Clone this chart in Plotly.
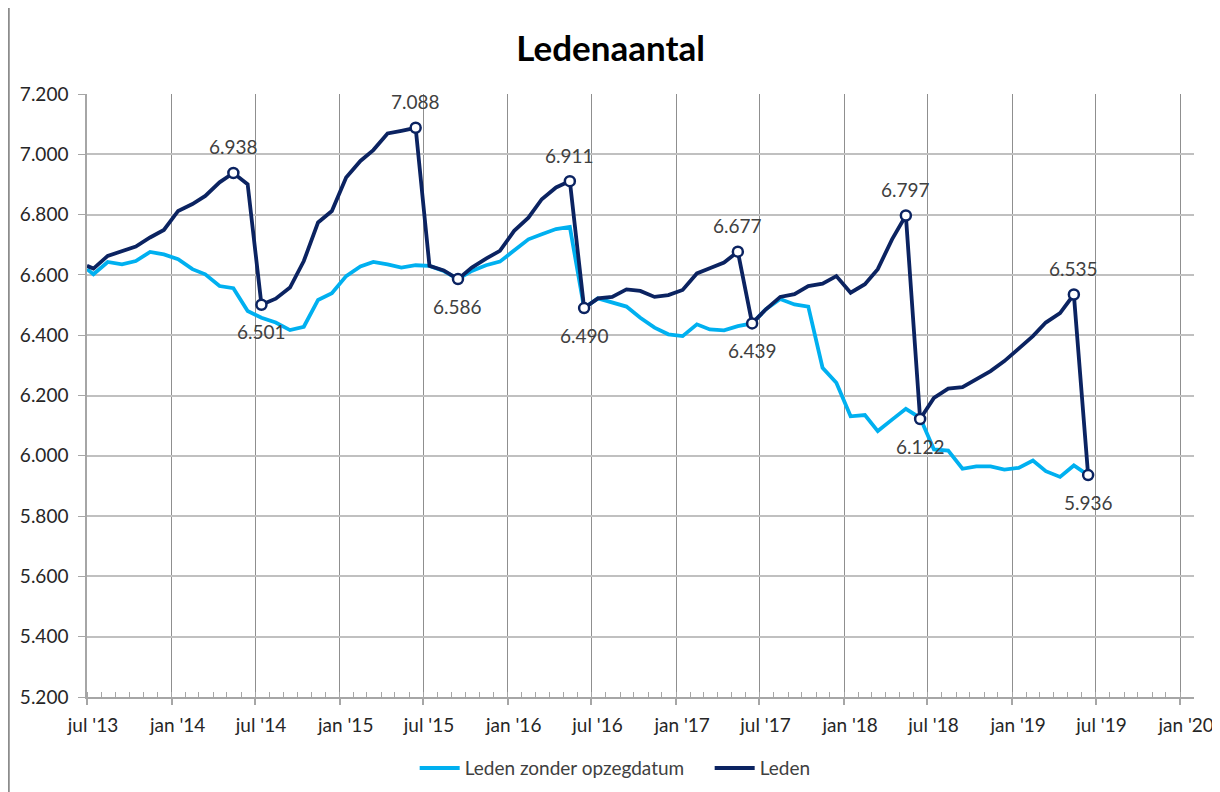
import pandas as pd
import plotly.graph_objects as go

# ---- data -------------------------------------------------------------
first_date = ["2013-07-01"]
monthly_dates = [d.strftime("%Y-%m-%d") for d in
                 (pd.date_range("2013-07-01", "2019-06-01", freq="MS") + pd.Timedelta(days=14))]
dates = first_date + monthly_dates

leden = [6630, 6621, 6663, 6679, 6694, 6724, 6749,
         6812, 6835, 6862, 6907, 6938, 6901, 6501, 6521, 6558, 6646, 6774, 6812,
         6923, 6978, 7014, 7069, 7078, 7088, 6630, 6615, 6586, 6624, 6654, 6680,
         6746, 6790, 6851, 6890, 6911, 6490, 6522, 6527, 6552, 6547, 6527, 6533,
         6550, 6605, 6622, 6641, 6677, 6439, 6486, 6527, 6536, 6563, 6571, 6596,
         6541, 6569, 6619, 6718, 6797, 6122, 6192, 6223, 6228, 6255, 6281, 6314,
         6355, 6397, 6442, 6473, 6535, 5936]

leden_zonder = [6619, 6602, 6643, 6635, 6646, 6676, 6668,
                6652, 6619, 6602, 6563, 6556, 6480, 6458, 6442, 6417, 6428, 6517, 6539,
                6596, 6628, 6643, 6635, 6624, 6632, 6630, 6613, 6586, 6613, 6632, 6644,
                6682, 6718, 6735, 6752, 6759, 6490, 6522, 6508, 6495, 6458, 6425, 6403,
                6397, 6436, 6419, 6416, 6430, 6439, 6486, 6520, 6502, 6495, 6292, 6242,
                6131, 6135, 6082, 6120, 6156, 6126, 6021, 6017, 5957, 5965, 5965, 5954,
                5960, 5984, 5949, 5930, 5968, 5936]

# highlighted points (index into the series) and label side
peak_idx = [11, 24, 35, 47, 59, 71]
trough_idx = [13, 27, 36, 48, 60, 72]

tick_dates = [d.strftime("%Y-%m-%d") for d in pd.date_range("2013-07-01", "2020-01-01", freq="6MS")]
month_names = {1: "jan", 7: "jul"}
tick_text = [f"{month_names[pd.Timestamp(d).month]} '{pd.Timestamp(d).strftime('%y')}" for d in tick_dates]

LIGHT = "#00B0F0"
DARK = "#0B2361"
FONT = "Lato, 'Open Sans', sans-serif"

def fmt(v):
    return f"{v:,}".replace(",", ".")

fig = go.Figure()
fig.add_trace(go.Scatter(x=dates, y=leden_zonder, mode="lines", name="Leden zonder opzegdatum",
                         line=dict(color=LIGHT, width=3.8)))
fig.add_trace(go.Scatter(x=dates, y=leden, mode="lines", name="Leden",
                         line=dict(color=DARK, width=3.8)))

mark_idx = peak_idx + trough_idx
fig.add_trace(go.Scatter(x=[dates[i] for i in mark_idx], y=[leden[i] for i in mark_idx],
                         mode="markers", showlegend=False, hoverinfo="skip",
                         marker=dict(symbol="circle", size=10, color="white",
                                     line=dict(color=DARK, width=2.5))))

annotations = []
for i in peak_idx:
    annotations.append(dict(x=dates[i], y=leden[i], xref="x", yref="y", text=fmt(leden[i]),
                            showarrow=False, yshift=26, font=dict(size=19, color="#404040", family=FONT)))
for i in trough_idx:
    annotations.append(dict(x=dates[i], y=leden[i], xref="x", yref="y", text=fmt(leden[i]),
                            showarrow=False, yshift=-27, font=dict(size=19, color="#404040", family=FONT)))

fig.update_layout(
    width=1220, height=792,
    margin=dict(l=79, r=34, t=86, b=103, autoexpand=False),
    paper_bgcolor="white", plot_bgcolor="white",
    separators=",.",
    font=dict(family=FONT, size=19, color="#404040"),
    title=dict(text="<b>Ledenaantal</b>", x=0.494, xanchor="center", y=0.949, yanchor="middle",
               font=dict(family=FONT, size=35, color="black")),
    legend=dict(orientation="h", x=0.296, xanchor="left", y=-0.118, yanchor="middle",
                font=dict(size=19, color="#404040", family=FONT), itemwidth=40,
                entrywidth=240, entrywidthmode="pixels",
                bgcolor="rgba(0,0,0,0)"),
    annotations=annotations,
    showlegend=True,
    shapes=[dict(type="rect", xref="paper", yref="paper", x0=-0.0709, x1=1.0190,
                 y0=-0.2, y1=1.2, line=dict(color="#8c8c8c", width=2.5), layer="below")],
)

fig.update_xaxes(
    type="date", range=["2013-07-01", "2020-01-31"],
    tickmode="array", tickvals=tick_dates, ticktext=tick_text,
    showgrid=True, gridcolor="#8f8f8f", gridwidth=1,
    showline=True, linecolor="#a6a6a6", linewidth=1.5,
    ticks="outside", ticklen=6, tickcolor="#a6a6a6", tickwidth=1.5,
    ticklabelshift=6, ticklabelstandoff=4,
    tickfont=dict(size=19, color="#262626", family=FONT),
    minor=dict(dtick="M1", ticks="inside", ticklen=5, tickcolor="#a6a6a6", tickwidth=1, showgrid=False),
    zeroline=False,
)
fig.update_yaxes(
    range=[5200, 7200], dtick=200, tickformat=",d",
    showgrid=True, gridcolor="#c0c0c0", gridwidth=1.5,
    showline=True, linecolor="#a6a6a6", linewidth=1.5,
    ticks="outside", ticklen=7, tickcolor="#a6a6a6",
    ticklabelstandoff=6,
    tickfont=dict(size=19, color="#262626", family=FONT),
    zeroline=False,
)

fig.write_html("out.html")
